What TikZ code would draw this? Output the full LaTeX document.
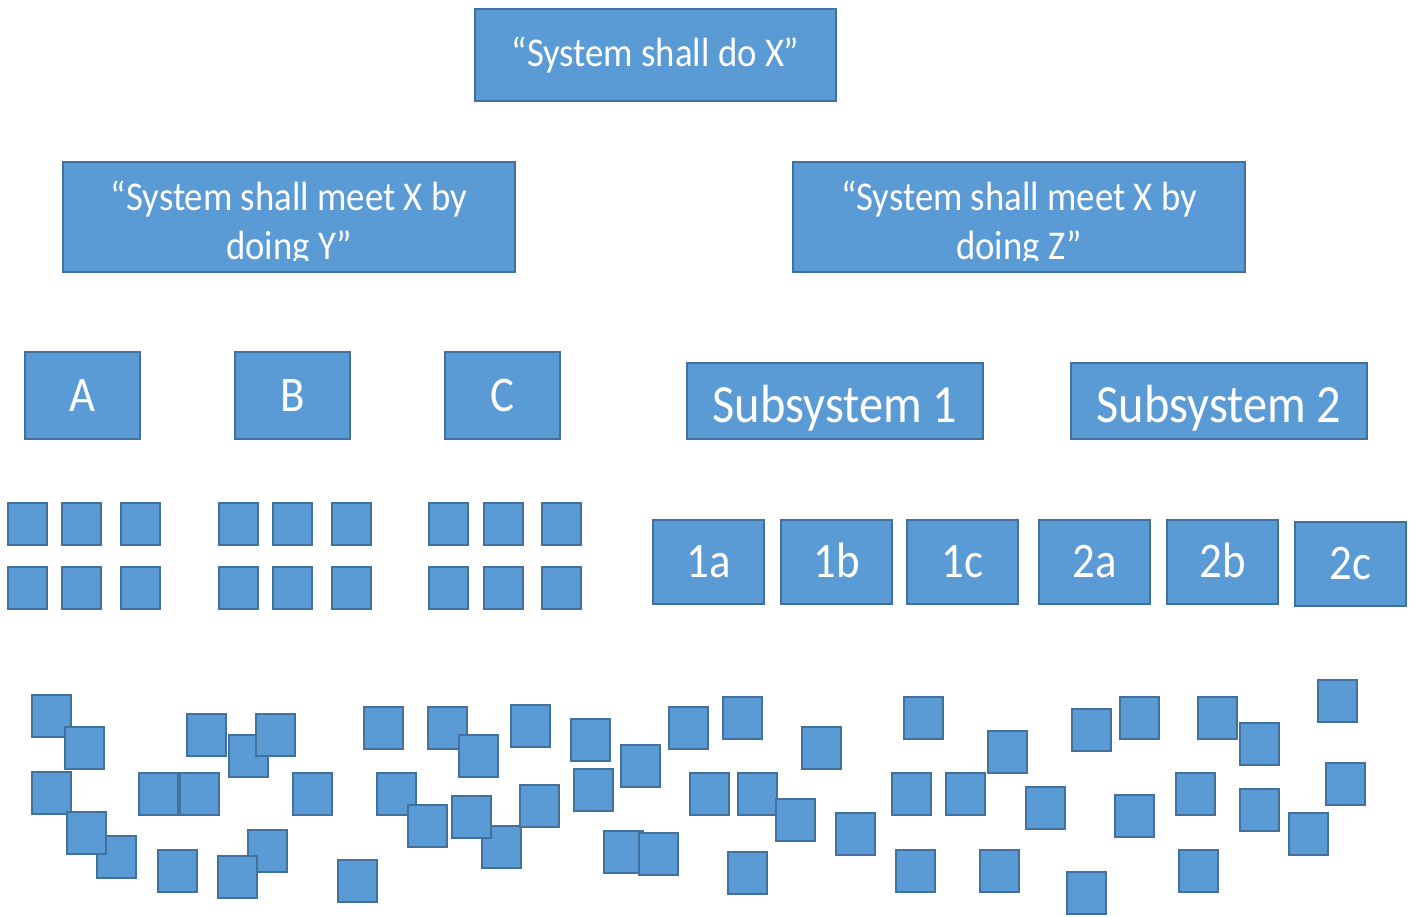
\documentclass[tikz,border=0pt]{standalone}
\usepackage{fontspec}
\setmainfont{Carlito}[FakeStretch=0.9]
\definecolor{boxfill}{HTML}{5B9BD5}
\definecolor{boxline}{HTML}{41719C}
\tikzset{
  box/.style={draw=boxline, fill=boxfill, line width=2bp, inner sep=0pt,
    outer sep=0pt, text=white},
  stmt/.style={box, minimum width=452bp, minimum height=110bp},
  stmtfont/.style={font=\fontsize{41}{49}\selectfont, text=white,
    align=center, inner sep=0pt},
  letterbox/.style={box, minimum width=115bp, minimum height=87bp,
    font=\fontsize{50}{56}\selectfont, text height=31.6bp, text depth=0pt},
  subbox/.style={box, minimum width=296bp, minimum height=76bp,
    font=\fontsize{54}{60}\selectfont, text height=42bp, text depth=0pt},
  partbox/.style={box, minimum width=111bp, minimum height=84bp,
    font=\fontsize{50}{56}\selectfont, text height=31.6bp, text depth=0pt},
  sq/.style={draw=boxline, fill=boxfill, line width=2.8bp, inner sep=0pt,
    outer sep=0pt, minimum width=39bp, minimum height=42bp, anchor=north west}
}
\begin{document}
\begin{tikzpicture}[x=1bp, y=-1bp]
\useasboundingbox (0,0) rectangle (1416,916);

% top-level requirement
\node[box, minimum width=361bp, minimum height=92bp,
  font=\fontsize{41}{46}\selectfont] (top) at (655.5,55) {“System shall do X”};

% derived requirements (text overflows and is cut by the text frame)
\node[stmt] (ybox) at (289,217) {};
\begin{scope}
  \clip (ybox.north west) rectangle ([yshift=12bp]ybox.south east);
  \node[stmtfont] (ytext) at (289,223.5) {“System shall meet X by\\doing Y”};
\end{scope}
\node[stmt] (zbox) at (1019,217) {};
\begin{scope}
  \clip (zbox.north west) rectangle ([yshift=12bp]zbox.south east);
  \node[stmtfont] (ztext) at (1019,223.5) {“System shall meet X by\\doing Z”};
\end{scope}

% functions A, B, C
\node[letterbox] (A) at (82.5,395.5) {A};
\node[letterbox] (B) at (292.5,395.5) {B};
\node[letterbox] (C) at (502.5,395.5) {C};

% subsystems
\node[subbox] (sub1) at (835,401) {Subsystem 1};
\node[subbox] (sub2) at (1219,401) {Subsystem 2};

% subsystem parts
\node[partbox] (p1a) at (708.5,562) {1a};
\node[partbox] (p1b) at (836.5,562) {1b};
\node[partbox] (p1c) at (962.5,562) {1c};
\node[partbox] (p2a) at (1094.5,562) {2a};
\node[partbox] (p2b) at (1222.5,562) {2b};
\node[partbox] (p2c) at (1350.5,564) {2c};

% sub-functions under A, B, C
\foreach \cx [count=\i] in {8,62,121,219,273,332,429,484,542} {
  \node[sq] (ga\i) at (\cx,503) {};
  \node[sq] (gb\i) at (\cx,567) {};
}

% unstructured pile of elements
\foreach \px/\py [count=\i] in {
  32/695, 65/727, 32/772, 97/836, 67/812, 139/773, 180/773, 187/714,
  229/735, 256/714, 293/773, 158/850, 248/830, 218/856, 338/860,
  364/707, 428/707, 459/735, 511/705, 571/719, 621/745, 669/707,
  377/773, 408/805, 482/826, 452/796, 520/785, 574/769, 604/831, 639/833,
  723/697, 802/727, 904/697, 988/731, 690/773, 738/773, 776/799,
  836/813, 892/773, 946/773, 1026/787, 728/852, 896/850, 980/850,
  1072/709, 1120/697, 1198/697, 1240/723, 1318/680, 1326/763,
  1176/773, 1240/789, 1289/813, 1115/795, 1179/850, 1067/872} {
  \node[sq] (s\i) at (\px,\py) {};
}
\end{tikzpicture}
\end{document}
